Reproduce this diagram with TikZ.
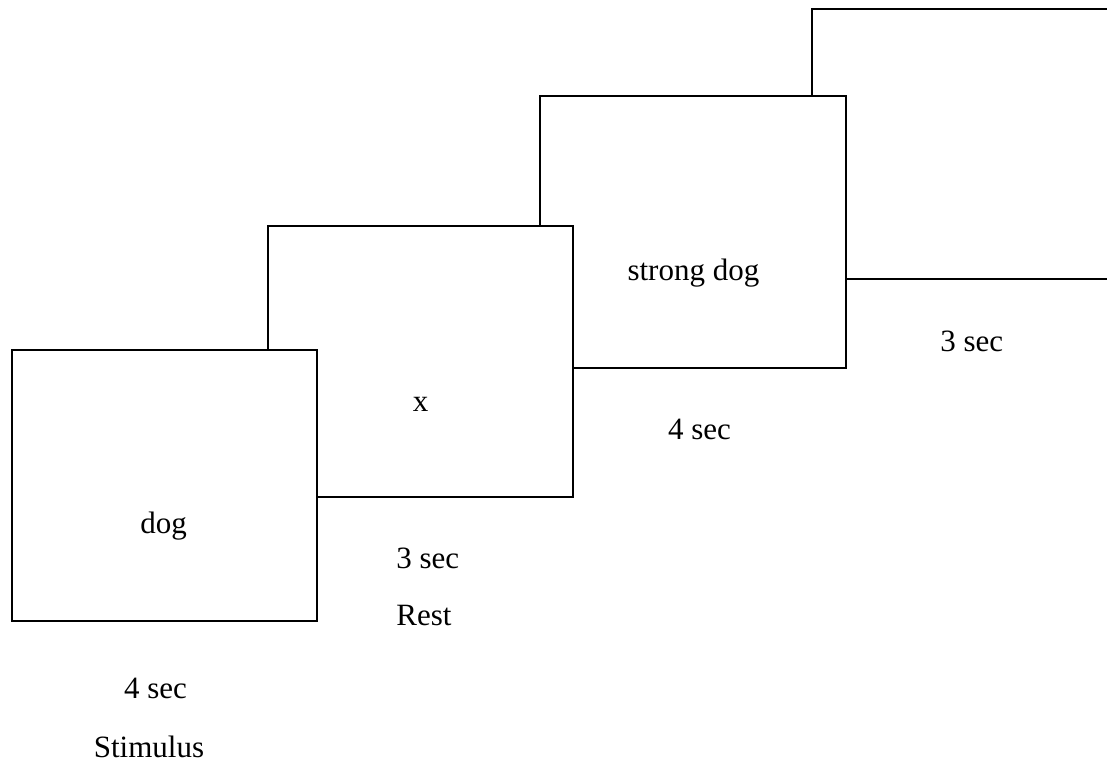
\documentclass[tikz,border=0pt]{standalone}
\usepackage{fontspec}
\setmainfont{Liberation Serif}
\begin{document}
\begin{tikzpicture}[x=1pt, y=-1pt,
  slide/.style={draw=black, fill=white, line width=1.8pt, rectangle,
    inner sep=0pt, outer sep=0pt, anchor=north west},
  lbl/.style={inner sep=0pt, anchor=base, font=\fontsize{31}{37}\selectfont}]
  \useasboundingbox (0,0) rectangle (1107,767);
  \clip (0,0) rectangle (1107,767);
  % stacked screens, back to front
  \node[slide, minimum width=420pt, minimum height=270pt] (s4) at (812,9) {};
  \node[slide, minimum width=306pt, minimum height=272pt] (s3) at (540,96) {};
  \node[slide, minimum width=305pt, minimum height=271pt] (s2) at (268,226) {};
  \node[slide, minimum width=305pt, minimum height=271pt] (s1) at (12,350) {};
  % screen contents
  \node[lbl] (t1) at (163.7,533) {dog};
  \node[lbl] (t2) at (420.7,411.7) {x};
  \node[lbl] (t3) at (693.4,280) {strong dog};
  % durations and phase names
  \node[lbl] (d1) at (155.5,698.5) {4 sec};
  \node[lbl] (p1) at (149,757) {Stimulus};
  \node[lbl] (d2) at (427.7,568.5) {3 sec};
  \node[lbl] (p2) at (424,625) {Rest};
  \node[lbl] (d3) at (699.5,439.5) {4 sec};
  \node[lbl] (d4) at (971.7,351.7) {3 sec};
\end{tikzpicture}
\end{document}
